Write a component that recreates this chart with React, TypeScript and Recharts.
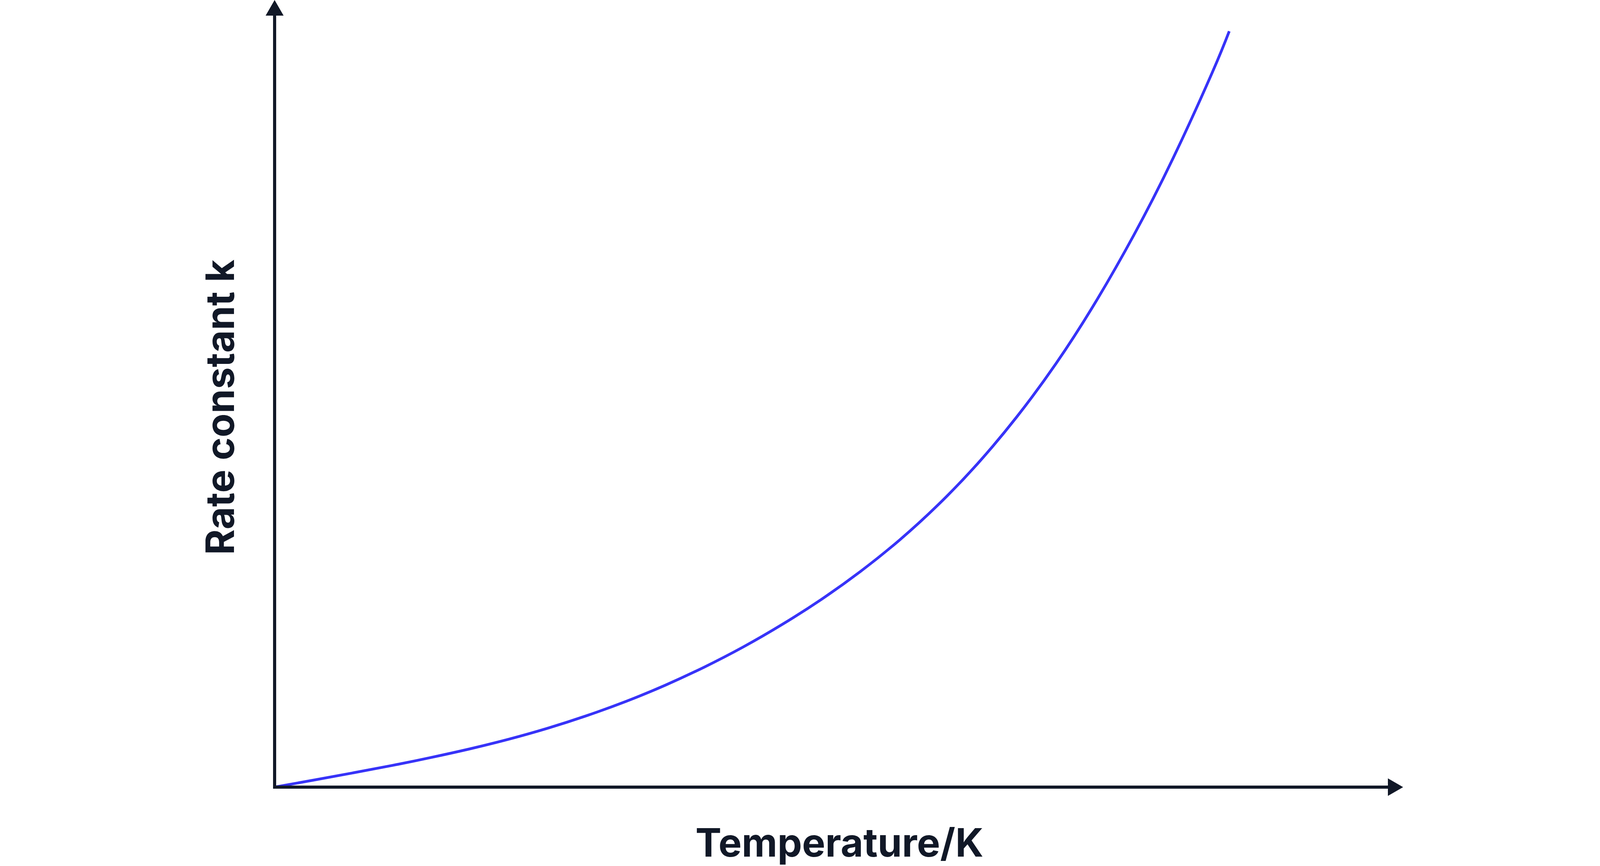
import * as React from "react"
import { LineChart, Line, XAxis, YAxis, Label, ReferenceDot } from "recharts"

// schematic readings, both axes in arbitrary units 0..100
const temperature = [
  0, 3.51, 7.02, 10.53, 14.04, 17.54, 21.05, 24.56, 28.07, 31.58, 35.09, 38.6, 42.11,
  45.61, 49.12, 52.63, 56.14, 59.65, 63.16, 66.67, 70.18, 73.68, 77.19, 80.7, 84.21, 85.75,
]
const rateConstant = [
  0, 0.91, 1.84, 2.8, 3.84, 4.96, 6.22, 7.65, 9.28, 11.12, 13.21, 15.56, 18.18,
  21.1, 24.34, 27.96, 32.03, 36.66, 41.95, 48.0, 54.88, 62.72, 71.58, 81.5, 92.58, 97.98,
]

const xLabel = "Temperature/K"
const yLabel = "Rate constant k"

const data = temperature.map((t, i) => ({ t, k: rateConstant[i] }))

const ink = "#111827"
const curveColor = "#3733F8"
const fontFamily = "Inter, 'Noto Sans', sans-serif"

// the design is 6418 wide; the window may be narrower, so keep it centred
const DESIGN_WIDTH = 6418
const HEIGHT = 2218

const UpArrow = (props: any) => {
  const { cx, cy } = props
  return <path d={`M${cx - 23},${cy} L${cx},${cy - 40} L${cx + 23},${cy} Z`} fill={ink} />
}

const RightArrow = (props: any) => {
  const { cx, cy } = props
  return <path d={`M${cx},${cy - 22.5} L${cx + 39},${cy} L${cx},${cy + 22.5} Z`} fill={ink} />
}

const XTitle = (props: any) => {
  const { x, y } = props.viewBox
  return (
    <text x={x + 1446} y={y + 178} textAnchor="middle" fontSize={100} fontWeight={700} fontFamily={fontFamily} fill={ink}>
      {xLabel}
    </text>
  )
}

const YTitle = (props: any) => {
  const { x, y, width, height } = props.viewBox
  const cx = x + width - 104
  const cy = y + height / 2 + 15
  return (
    <text x={cx} y={cy} transform={`rotate(-90, ${cx}, ${cy})`} textAnchor="middle" fontSize={100} fontWeight={700} fontFamily={fontFamily} fill={ink}>
      {yLabel}
    </text>
  )
}

export default function App() {
  const width = Math.min(DESIGN_WIDTH, window.innerWidth || DESIGN_WIDTH)
  const shift = (width - DESIGN_WIDTH) / 2

  return (
    <div style={{ width, height: HEIGHT, background: "#fff" }}>
      <style>{`body{margin:0}`}</style>
      <LineChart
        width={width}
        height={HEIGHT}
        data={data}
        margin={{ top: 40, right: 1704 + shift, bottom: 0, left: 1664 + shift }}
      >
        <XAxis
          type="number"
          dataKey="t"
          domain={[0, 100]}
          tick={false}
          tickLine={false}
          height={202}
          axisLine={{ stroke: ink, strokeWidth: 8, strokeLinecap: "square" }}
        >
          <Label content={XTitle} />
        </XAxis>
        <YAxis
          type="number"
          domain={[0, 100]}
          tick={false}
          tickLine={false}
          width={200}
          axisLine={{ stroke: ink, strokeWidth: 8, strokeLinecap: "square" }}
        >
          <Label content={YTitle} />
        </YAxis>
        <ReferenceDot x={0} y={100} ifOverflow="visible" shape={UpArrow} />
        <ReferenceDot x={100} y={0} ifOverflow="visible" shape={RightArrow} />
        <Line
          type="natural"
          dataKey="k"
          stroke={curveColor}
          strokeWidth={7}
          dot={false}
          activeDot={false}
          isAnimationActive={false}
        />
      </LineChart>
    </div>
  )
}
